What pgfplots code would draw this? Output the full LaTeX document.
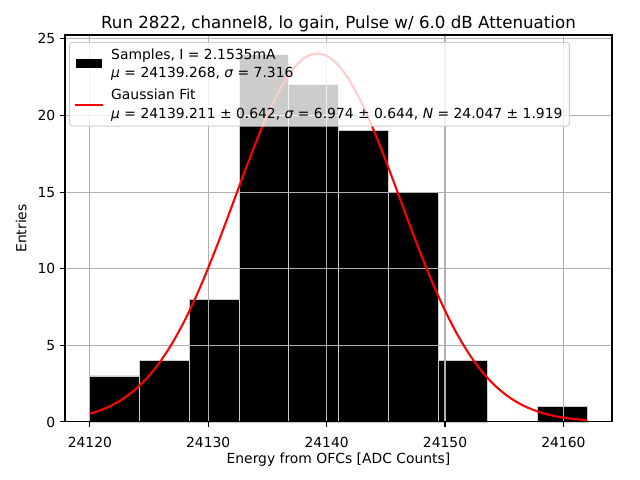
\documentclass[border=0pt]{standalone}
\usepackage{fontspec}
\setmainfont{DejaVu Sans}
\usepackage{pgfplots}
\pgfplotsset{compat=1.18}
\definecolor{gridgray}{HTML}{B0B0B0}
\definecolor{legedge}{HTML}{CCCCCC}
\newcommand{\twoline}[2]{\raisebox{8.5pt}{\begin{tabular}{@{}l@{}}\rule[-3.5pt]{0pt}{13pt}#1\\\rule[-3.5pt]{0pt}{13pt}#2\end{tabular}}}
\begin{document}
\begin{tikzpicture}
\begin{axis}[
  set layers,
  at={(0,0)}, anchor=south west,
  scale only axis, width=393.8pt, height=278.6pt,
  xmin=24117.9, xmax=24164.1, ymin=0, ymax=25.25,
  xtick={24120,24130,24140,24150,24160},
  xticklabels={24120,24130,24140,24150,24160},
  ytick={0,5,10,15,20,25},
  yticklabels={0,5,10,15,20,25},
  scaled x ticks=false,
  tick pos=left, tick align=outside, major tick length=3.5pt,
  every tick/.style={black, line width=0.8pt},
  axis line style={line width=0.8pt},
  grid=major, major grid style={gridgray, line width=0.8pt},
  tick label style={font=\fontsize{10}{12}\selectfont},
  xticklabel style={yshift=-4pt},
  label style={font=\fontsize{10}{12}\selectfont},
  xlabel={Energy from OFCs [ADC Counts]},
  ylabel={Entries},
  xlabel style={yshift=3.5pt},
  ylabel style={yshift=1pt},
  title={Run 2822, channel8, lo gain, Pulse w/ 6.0 dB Attenuation},
  title style={font=\fontsize{12}{14.4}\selectfont, yshift=-7pt},
  legend cell align=left,
  legend style={at={(0.0073,0.982)}, anchor=north west,
    fill=white, fill opacity=0.8, draw opacity=1, text opacity=1,
    draw=legedge, rounded corners=2pt, line width=0.6pt,
    font=\fontsize{10}{13}\selectfont, inner xsep=3pt, inner ysep=0.5pt,
    row sep=-0.5pt,
    /tikz/every odd column/.append style={column sep=3pt}},
]
\addplot[on layer=axis background, ybar, bar width=4.2, bar shift=0pt,
  fill=black, draw=white!80!black, line width=0.6pt,
  legend image code/.code={\fill[black, fill opacity=1, sharp corners] (0pt,-2.9pt) rectangle (18pt,2.9pt);}]
coordinates {
(24122.1,3) (24126.3,4) (24130.5,8) (24134.7,24) (24138.9,22)
(24143.1,19) (24147.3,15) (24151.5,4) (24159.9,1)
};
\addlegendentry{\twoline{Samples, I = 2.1535mA}{{\itshape μ} = 24139.268, {\itshape σ} = 7.316}}
\addplot[red, line width=1.5pt, smooth, no markers,
  legend image code/.code={\draw[red, line width=1.5pt, sharp corners] (-1pt,0pt) -- (19.6pt,0pt);}]
coordinates {
(24120,0.541) (24121,0.795) (24122,1.144) (24123,1.613) (24124,2.228)
(24125,3.015) (24126,3.997) (24127,5.192) (24128,6.605) (24129,8.233)
(24130,10.053) (24131,12.024) (24132,14.089) (24133,16.174) (24134,18.190)
(24135,20.039) (24136,21.629) (24137,22.868) (24138,23.687) (24139,24.036)
(24140,23.894) (24141,23.269) (24142,22.199) (24143,20.747) (24144,18.995)
(24145,17.039) (24146,14.972) (24147,12.889) (24148,10.869) (24149,8.979)
(24150,7.267) (24151,5.762) (24152,4.475) (24153,3.405) (24154,2.538)
(24155,1.854) (24156,1.326) (24157,0.929) (24158,0.638) (24159,0.429)
(24160,0.283) (24161,0.183) (24162,0.115)
};
\addlegendentry{\twoline{Gaussian Fit}{{\itshape μ} = 24139.211 ± 0.642, {\itshape σ} = 6.974 ± 0.644, {\itshape N} = 24.047 ± 1.919}}
\end{axis}
\pgfresetboundingbox
\useasboundingbox (-46.8pt,-41.8pt) rectangle (414pt,303.8pt);
\end{tikzpicture}
\end{document}
